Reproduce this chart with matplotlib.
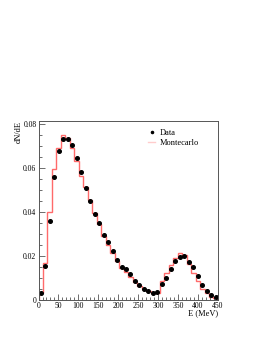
import numpy as np
import matplotlib
matplotlib.use("Agg")
import matplotlib.pyplot as plt
from matplotlib.ticker import MultipleLocator, FixedLocator

edges = np.linspace(0, 450, 41)
centers = 0.5 * (edges[:-1] + edges[1:])

data_vals = [0.0030, 0.0153, 0.0360, 0.0560, 0.0677, 0.0731, 0.0734, 0.0703, 0.0648, 0.0580,
             0.0509, 0.0451, 0.0391, 0.0350, 0.0294, 0.0266, 0.0221, 0.0180, 0.0150, 0.0139,
             0.0117, 0.0086, 0.0068, 0.0052, 0.0042, 0.0033, 0.0036, 0.0071, 0.0101, 0.0140,
             0.0179, 0.0195, 0.0198, 0.0173, 0.0149, 0.0108, 0.0070, 0.0042, 0.0024, 0.0012]

mc_vals = [0.0030, 0.0167, 0.0400, 0.0597, 0.0693, 0.0750, 0.0735, 0.0690, 0.0633, 0.0566,
           0.0512, 0.0455, 0.0397, 0.0344, 0.0292, 0.0248, 0.0215, 0.0176, 0.0146, 0.0128,
           0.0106, 0.0083, 0.0066, 0.0052, 0.0040, 0.0030, 0.0034, 0.0088, 0.0121, 0.0159,
           0.0190, 0.0215, 0.0205, 0.0164, 0.0121, 0.0086, 0.0049, 0.0030, 0.0015, 0.0008]

ytick_vals = [0, 0.02, 0.04, 0.06, 0.08]
ytick_labels = ["0", "0.02", "0.04", "0.06", "0.08"]
xtick_vals = [0, 50, 100, 150, 200, 250, 300, 350, 400, 450]

plt.rcParams['font.family'] = ['Liberation Serif', 'DejaVu Serif']

fig = plt.figure(figsize=(2.62, 3.39), dpi=100)
ax = fig.add_axes([0.147, 0.115, 0.685, 0.528])

ax.stairs(mc_vals, edges, baseline=0, color='#ff6a6a', linewidth=1.0, label='Montecarlo')
ax.plot(centers, data_vals, 'o', color='black', markersize=2.6, label='Data')

ax.set_xlim(0, 450)
ax.set_ylim(0, 0.0814)

ax.xaxis.set_major_locator(FixedLocator(xtick_vals))
ax.xaxis.set_minor_locator(MultipleLocator(10))
ax.yaxis.set_major_locator(FixedLocator(ytick_vals))
ax.set_yticklabels(ytick_labels)
ax.yaxis.set_minor_locator(MultipleLocator(0.005))

ax.tick_params(which='both', direction='in', labelsize=5.5, pad=1.5, width=0.6,
               colors='#555555', labelcolor='black', top=False, right=False)
ax.tick_params(which='major', length=4)
ax.tick_params(which='minor', length=2)
for s in ax.spines.values():
    s.set_linewidth(0.7)
    s.set_color('#555555')

fig.text(0.832, 0.077, "E (MeV)", ha='right', va='center', fontsize=6)
fig.text(0.07, 0.643, "dN/dE", ha='center', va='top', rotation=90, fontsize=6)

handles, labels = ax.get_legend_handles_labels()
leg = ax.legend([handles[1], handles[0]], ["Data", "Montecarlo"], loc='upper left',
                bbox_to_anchor=(0.58, 0.99), frameon=False, fontsize=6,
                handlelength=0.8, handletextpad=0.5, labelspacing=0.3, borderpad=0.2,
                markerscale=0.6)
leg.legend_handles[1].set_color('#ffcccc')

fig.savefig("out.png", dpi=100)
